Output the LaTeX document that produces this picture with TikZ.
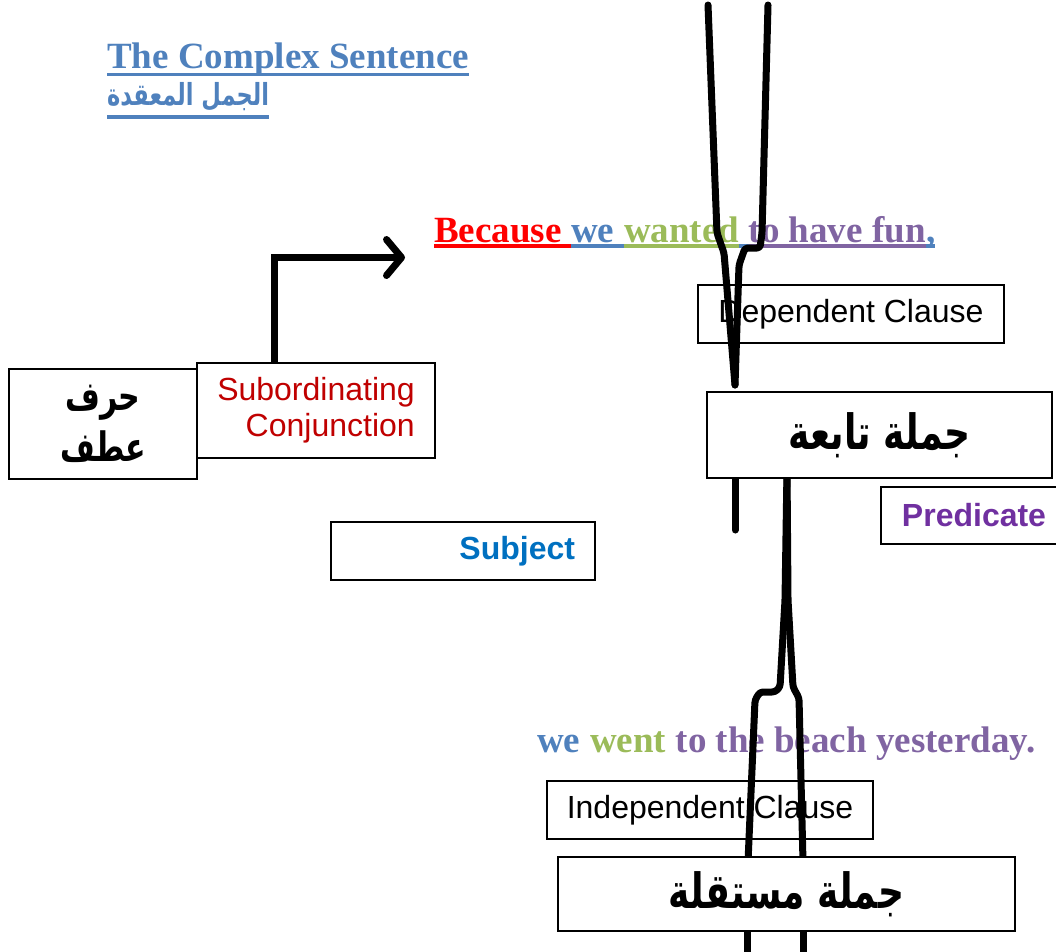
\documentclass[tikz,border=0pt]{standalone}
\usepackage{graphicx}
\usepackage{fontspec}
\setmainfont{Liberation Sans}
\newfontfamily\timesfont{Liberation Serif}
\newfontfamily\arabicfont[Script=Arabic]{DejaVu Sans}
\TeXXeTstate=1
\usepackage{tikz}
\usetikzlibrary{arrows.meta}
\usetikzlibrary{math}
\usetikzlibrary{positioning}

\definecolor{TitleBlue}{HTML}{4F81BD}
\definecolor{WordRed}{HTML}{FF0000}
\definecolor{WordGreen}{HTML}{9BBB59}
\definecolor{WordPurple}{HTML}{8064A2}
\definecolor{ConjRed}{HTML}{C00000}
\definecolor{SubjBlue}{HTML}{0070C0}
\definecolor{PredPurple}{HTML}{7030A0}

% arabic words, a little taller than the font gives them
\newcommand{\artext}[1]{\scalebox{1}[1.35]{\beginR #1\endR}}

\tikzset{
	box/.style={draw, line width=1.6pt, inner sep=0pt, font=\fontsize{32}{36}\selectfont},
	arabox/.style={box, fill=white, font=\arabicfont\bfseries\fontsize{36}{40}\selectfont},
	word/.style={inner sep=0pt, anchor=base west, font=\timesfont\bfseries\fontsize{37}{40}\selectfont},
	fork/.style={line width=7pt, line cap=round, line join=round, rounded corners=3pt},
	uline/.style={line width=4pt},
}

\begin{document}
\begin{tikzpicture}[x=1pt,y=-1pt]
	\useasboundingbox (0,0) rectangle (1056,951);
	\tikzmath{\Space = 9.25;}

	% title
	\node[word, text=TitleBlue] (title) at (107,68.5) {The Complex Sentence};
	\draw[line width=3.5pt, TitleBlue] ([yshift=-6pt]title.base west) -- ([yshift=-6pt]title.base east);
	\node[inner sep=0pt, anchor=base west, text=TitleBlue, font=\arabicfont\bfseries\fontsize{22.5}{28}\selectfont] (subtitle) at (107,105) {\artext{الجمل المعقدة}};
	\draw[line width=3.5pt, TitleBlue] ([yshift=-12pt]subtitle.base west) -- ([yshift=-12pt]subtitle.base east);

	% first sentence
	\node[word, text=WordRed] (because) at (434,242) {Because};
	\node[word, text=TitleBlue] (we) at ([xshift=\Space]because.base east) {we};
	\node[word, text=WordGreen] (wanted) at ([xshift=\Space]we.base east) {wanted};
	\node[word, text=WordPurple] (fun) at ([xshift=\Space]wanted.base east) {to have fun};
	\node[word, text=TitleBlue] (comma) at (fun.base east) {,};
	\draw[uline, WordRed] ([yshift=-4pt]because.base west) -- ([yshift=-4pt]we.base west);
	\draw[uline, TitleBlue] ([yshift=-4pt]we.base west) -- ([yshift=-4pt]wanted.base west);
	\draw[uline, WordGreen] ([yshift=-4pt]wanted.base west) -- ([yshift=-4pt]wanted.base east);
	\draw[uline, TitleBlue] ([yshift=-4pt]wanted.base east) -- ([yshift=-4pt]fun.base west);
	\draw[uline, WordPurple] ([yshift=-4pt]fun.base west) -- ([yshift=-4pt]fun.base east);
	\draw[uline, TitleBlue] ([yshift=-4pt]fun.base east) -- ([yshift=-4pt]comma.base east);

	% second sentence
	\node[word, text=TitleBlue] (we2) at (537,752) {we};
	\node[word, text=WordGreen] (went) at ([xshift=\Space]we2.base east) {went};
	\node[word, text=WordPurple] (beach) at ([xshift=\Space]went.base east) {to the beach yesterday.};

	% conjunction boxes
	\node[arabox, minimum width=188pt, minimum height=110pt, align=center, font=\arabicfont\bfseries\fontsize{30}{40}\selectfont] (harf) at (103,424) {\artext{حرف}\\[10pt]\artext{عطف}};
	\node[box, text=ConjRed, minimum width=238pt, minimum height=95pt, align=right, fill=white] (conj) at (316,410.5) {Subordinating\\Conjunction};
	\coordinate (tip) at (405,257.5);
	\draw[line width=7pt, -{Straight Barb[length=15pt,width=36pt,round]}] ([xshift=-42pt]conj.north) |- (tip);

	\node[box, text=SubjBlue, font=\bfseries\fontsize{32}{36}\selectfont, minimum width=264pt, minimum height=58pt, text width=224pt, align=right] (subject) at (463,551) {Subject};
	\node[box, text=PredPurple, font=\bfseries\fontsize{32}{36}\selectfont, minimum width=186pt, minimum height=57pt] (predicate) at (974,515.5) {Predicate};

	% clause boxes
	\node[box, minimum width=306pt, minimum height=58pt] (dep) at (851,314) {Dependent Clause};
	\node[box, minimum width=326pt, minimum height=58pt] (indep) at (710,810) {Independent Clause};

	% forks
	\draw[fork] (708,5) -- (717,233) -- (724,253) -- (735,385);
	\draw[fork] (768,5) -- (762,233) -- (760,248) -- (745,248) -- (739,265) -- (735,385);
	\draw[fork] (735,470) -- (735,530);
	\draw[fork] (787,470) -- (785,600) -- (780,687) -- (775,692) -- (760,692) -- (755,700) -- (748,862);
	\draw[fork] (787,470) -- (788,600) -- (793,687) -- (799,698) -- (803,862);
	\draw[fork] (747,925) -- (747,960);
	\draw[fork] (803,925) -- (803,960);

	\node[arabox, minimum width=345pt, minimum height=86pt] (tabia) at (879.5,435) {\artext{جملة تابعة}};
	\node[arabox, minimum width=457pt, minimum height=74pt] (mustaqila) at (786.5,894) {\artext{جملة مستقلة}};
\end{tikzpicture}
\end{document}
